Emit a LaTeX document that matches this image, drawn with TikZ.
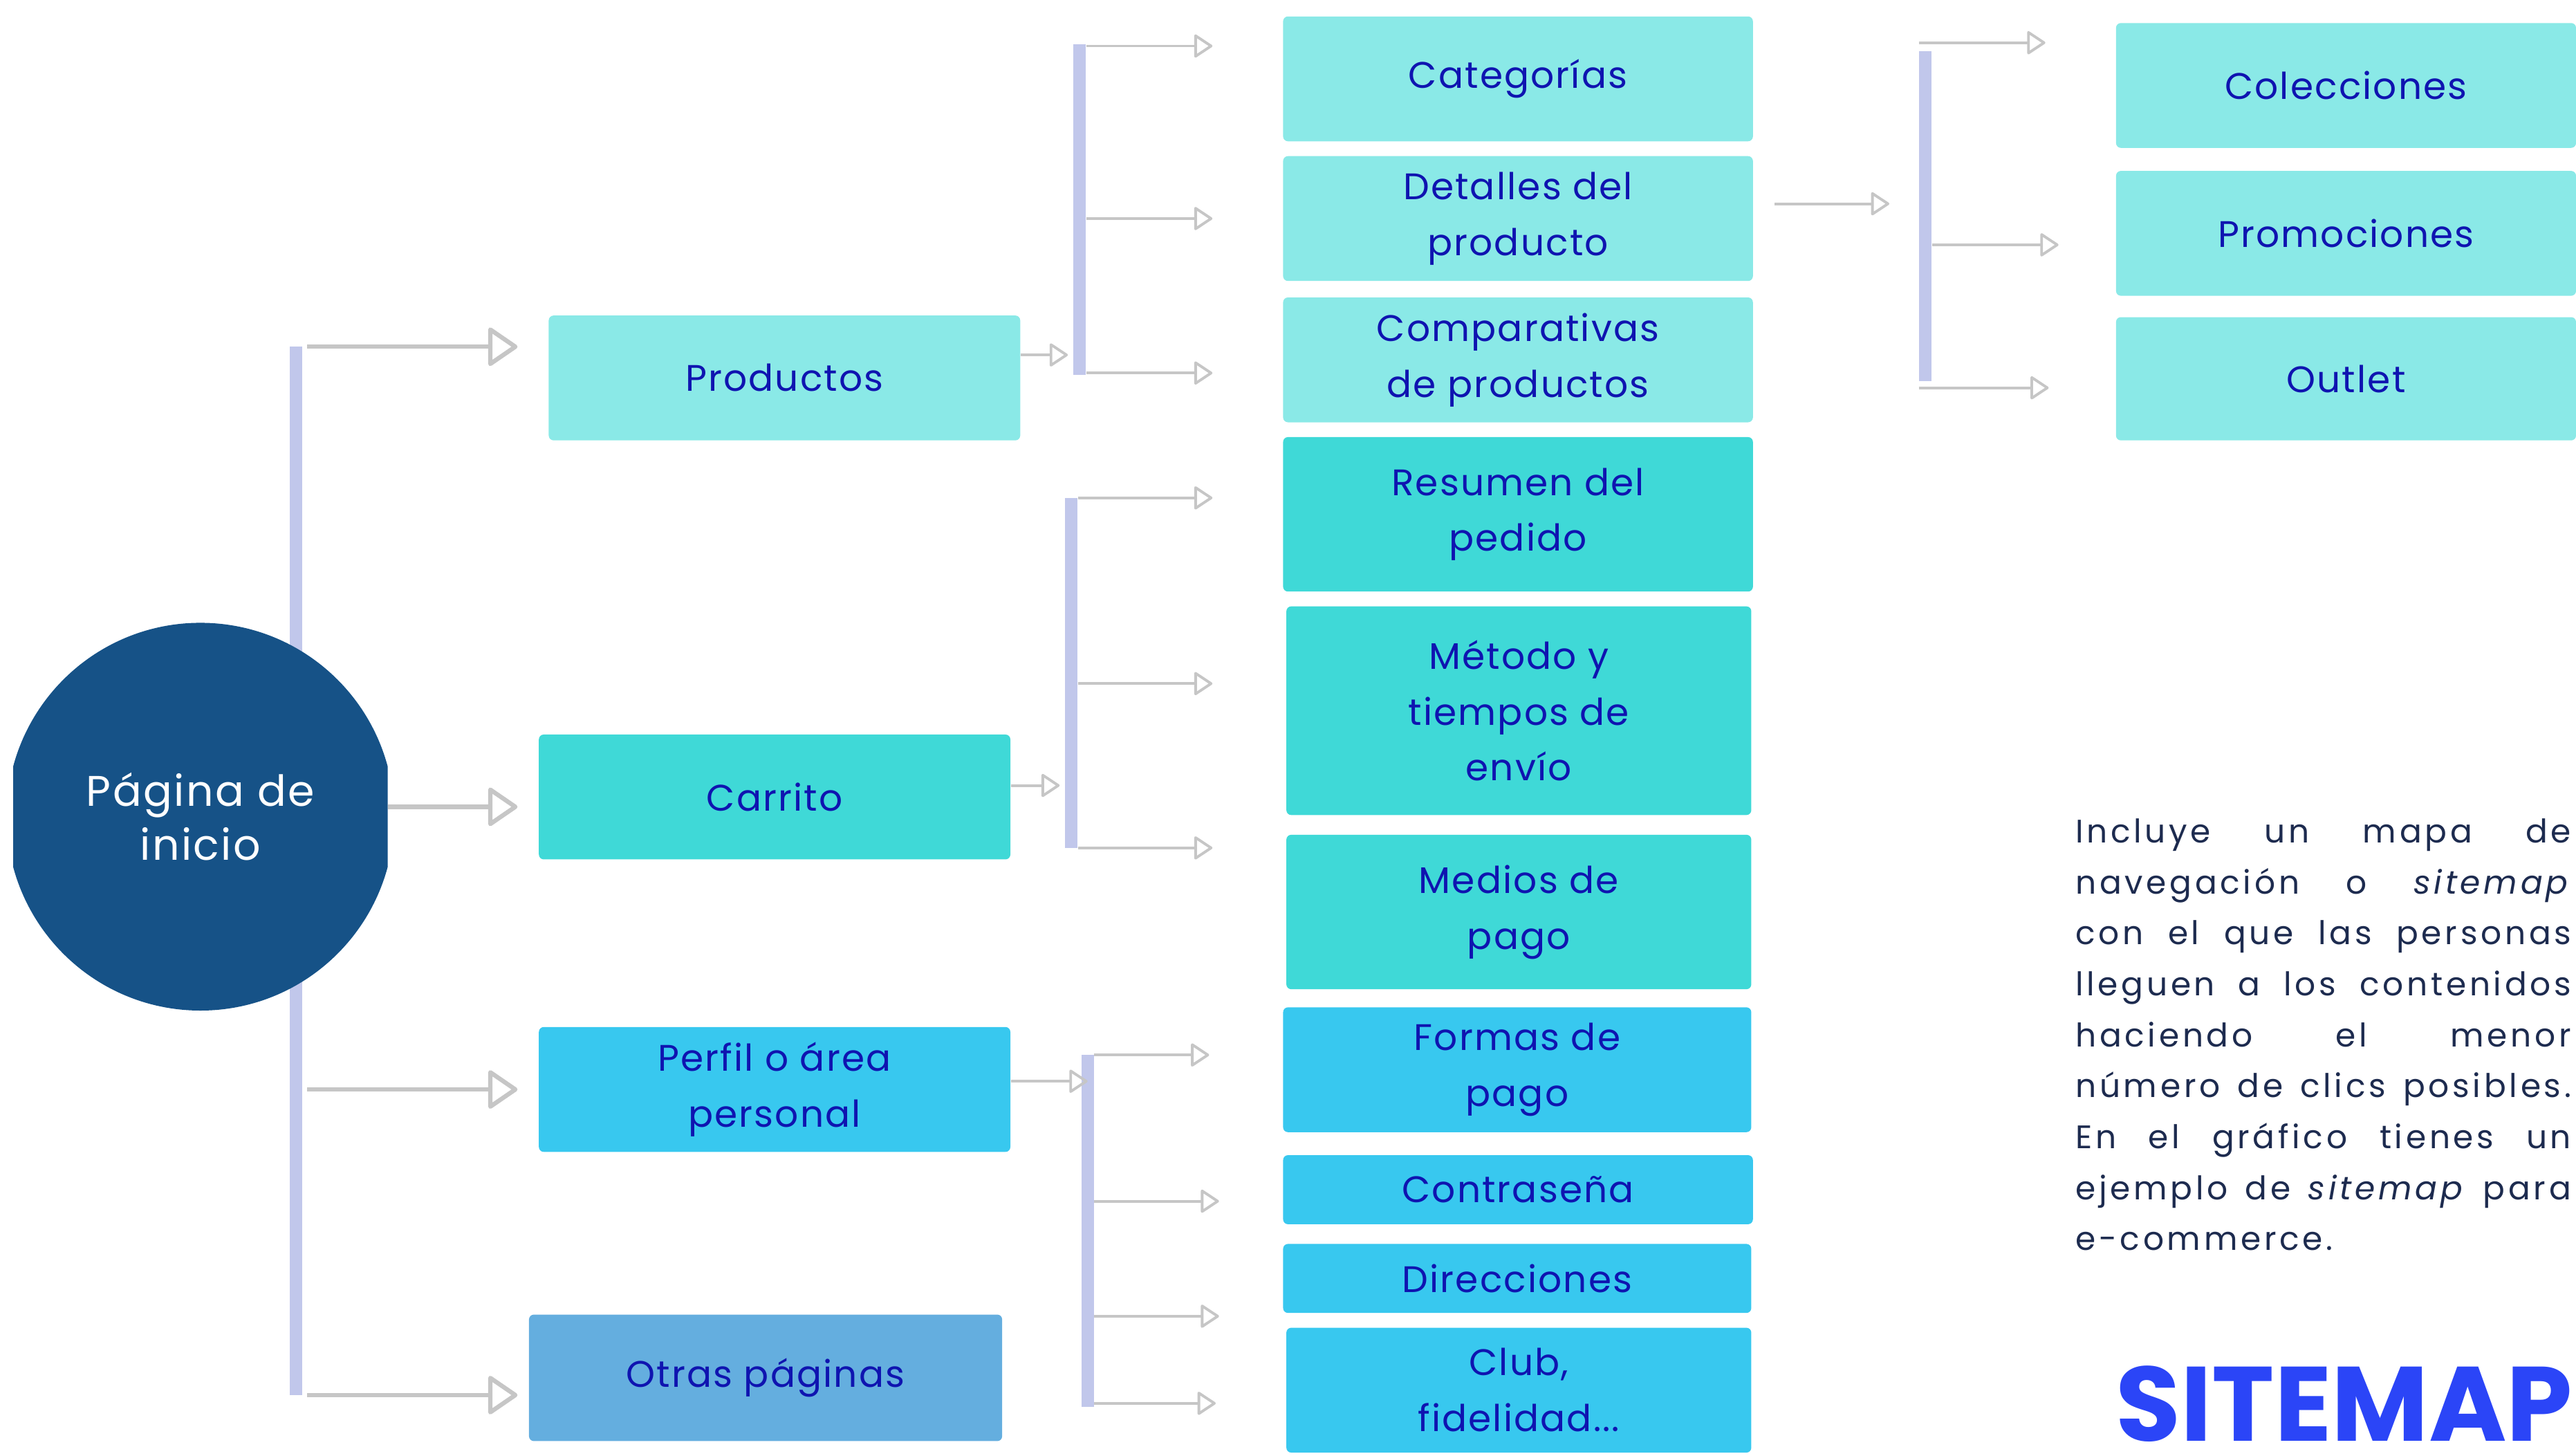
\documentclass[tikz,border=0pt]{standalone}
\usepackage{fontspec}
\setmainfont{Poppins}
\newfontfamily\boxfont{Poppins}[LetterSpace=4]
\newfontfamily\bodyfont{Poppins}[LetterSpace=10]
\usetikzlibrary{arrows.meta,positioning,calc}
\definecolor{rootblue}{HTML}{165287}
\definecolor{lightcyan}{HTML}{8AE9E7}
\definecolor{turq}{HTML}{3FD9D7}
\definecolor{sky}{HTML}{38C8EF}
\definecolor{otherblue}{HTML}{64AEDF}
\definecolor{labelblue}{HTML}{0F14B0}
\definecolor{arrowgray}{HTML}{C6C6C6}
\definecolor{barblue}{HTML}{C1C7EB}
\definecolor{bodyink}{HTML}{1D2B4F}
\definecolor{titleblue}{HTML}{2B45F7}
\newcommand\justline[1]{\makebox[7.17cm][s]{#1}}

\tikzset{
  box/.style={rectangle, rounded corners=2pt, inner sep=2pt, align=center,
    text=labelblue, font=\boxfont\fontsize{15.2}{23}\selectfont,
    minimum width=6.818cm, minimum height=1.805cm},
  prodbox/.style={box, fill=lightcyan},
  cartbox/.style={box, fill=turq},
  userbox/.style={box, fill=sky},
  otherbox/.style={box, fill=otherblue},
  hubbar/.style={rectangle, fill=barblue, inner sep=0pt, minimum width=0.18cm},
  bigarrow/.style={draw=arrowgray, line width=1.8pt, line join=round,
    -{Triangle[open, length=0.45cm, width=0.6cm, round]}},
  smallarrow/.style={draw=arrowgray, line width=1.1pt, line join=round,
    -{Triangle[open, length=0.28cm, width=0.36cm, round]}}
}

\begin{document}
\begin{tikzpicture}[x=0.023756cm, y=-0.023756cm]
\useasboundingbox (0,0) rectangle (1568,886);

% hub bars
\node[hubbar, minimum height=15.16cm] (mainbar) at (180,530) {};
\node[hubbar, minimum height=4.775cm] (prodbar) at (657,127.5) {};
\node[hubbar, minimum height=5.06cm] (cartbar) at (652,409.5) {};
\node[hubbar, minimum height=5.084cm] (userbar) at (662,749) {};
\node[hubbar, minimum height=4.775cm] (detbar) at (1172,131.5) {};

% home page circle, cut at both sides
\begin{scope}
  \clip (8,0) rectangle (236,886);
  \fill[rootblue] (122,497) circle (2.803cm);
\end{scope}
\node[text=white, align=center, font=\boxfont\fontsize{17.6}{22.2}\selectfont] (root) at (122,497) {Página de\\inicio};
\coordinate (rootedge) at (236,491);

% first level
\node[prodbox] (prod) at (477.5,230) {Productos};
\node[cartbox] (cart) at (471.5,485) {Carrito};
\node[userbox] (user) at (471.5,663) {Perfil o área\\personal};
\node[otherbox, minimum width=6.842cm, minimum height=1.829cm] (other) at (466,838.5) {Otras páginas};

\draw[bigarrow] ([xshift=0.07cm]mainbar.east |- 0,211) -- (315,211);
\draw[bigarrow] (rootedge) -- (315,491);
\draw[bigarrow] ([xshift=0.07cm]mainbar.east |- 0,663) -- (315,663);
\draw[bigarrow] ([xshift=0.07cm]mainbar.east |- 0,849) -- (315,849);

% second level
\node[prodbox, minimum width=6.794cm] (cat) at (924,48) {Categorías};
\node[prodbox, minimum width=6.794cm] (det) at (924,133) {Detalles del\\producto};
\node[prodbox, minimum width=6.794cm] (comp) at (924,219) {Comparativas\\de productos};
\node[cartbox, minimum width=6.794cm, minimum height=2.233cm] (summary) at (924,313) {Resumen del\\pedido};
\node[cartbox, minimum width=6.723cm, minimum height=3.017cm] (ship) at (924.5,432.5) {Método y\\tiempos de\\envío};
\node[cartbox, minimum width=6.723cm, minimum height=2.233cm] (paymeans) at (924.5,555) {Medios de\\pago};
\node[userbox, minimum width=6.770cm] (payforms) at (923.5,651) {Formas de\\pago};
\node[userbox, minimum width=6.794cm, minimum height=0.998cm] (pass) at (924,724) {Contraseña};
\node[userbox, minimum width=6.770cm, minimum height=0.998cm] (addr) at (923.5,778) {Direcciones};
\node[userbox, minimum width=6.723cm] (club) at (924.5,846) {Club,\\fidelidad...};

\draw[smallarrow] (prod.east |- 0,216) -- (650,216);
\draw[smallarrow] (prodbar.east |- 0,28) -- (738,28);
\draw[smallarrow] (prodbar.east |- 0,133) -- (738,133);
\draw[smallarrow] (prodbar.east |- 0,227) -- (738,227);

\draw[smallarrow] (cart.east |- 0,478) -- (645,478);
\draw[smallarrow] (cartbar.east |- 0,303) -- (738,303);
\draw[smallarrow] (cartbar.east |- 0,416) -- (738,416);
\draw[smallarrow] (cartbar.east |- 0,516) -- (738,516);

\draw[smallarrow] (user.east |- 0,658) -- (662,658);
\draw[smallarrow] (userbar.east |- 0,642) -- (736,642);
\draw[smallarrow] (userbar.east |- 0,731) -- (742,731);
\draw[smallarrow] (userbar.east |- 0,801) -- (742,801);
\draw[smallarrow] (userbar.east |- 0,854) -- (740,854);

% third level
\node[prodbox, minimum width=6.652cm] (coll) at (1428,52) {Colecciones};
\node[prodbox, minimum width=6.652cm] (promo) at (1428,142) {Promociones};
\node[prodbox, minimum width=6.652cm, minimum height=1.782cm] (outlet) at (1428,230.5) {Outlet};

\draw[smallarrow] ($(det.east)+(13,-9)$) -- (1150,124);
\draw[smallarrow] (detbar.west |- 0,26) -- (1245,26);
\draw[smallarrow] (detbar.east |- 0,149) -- (1253,149);
\draw[smallarrow] (detbar.west |- 0,236) -- (1247,236);

% side text
\node[anchor=north west, inner sep=0pt, align=left, text=bodyink,
  font=\bodyfont\fontsize{13.4}{20.95}\selectfont] (intro) at (1263,498) {%
  \justline{Incluye un mapa de}\\
  \justline{navegación o \textit{sitemap}}\\
  \justline{con el que las personas}\\
  \justline{lleguen a los contenidos}\\
  \justline{haciendo el menor}\\
  \justline{número de clics posibles.}\\
  \justline{En el gráfico tienes un}\\
  \justline{ejemplo de \textit{sitemap} para}\\
  e-commerce.};
\node[anchor=base, inner sep=0pt, text=titleblue, font=\bfseries\fontsize{43.5}{46}\selectfont] (title) at (1427,877) {SITEMAP};
\end{tikzpicture}
\end{document}
